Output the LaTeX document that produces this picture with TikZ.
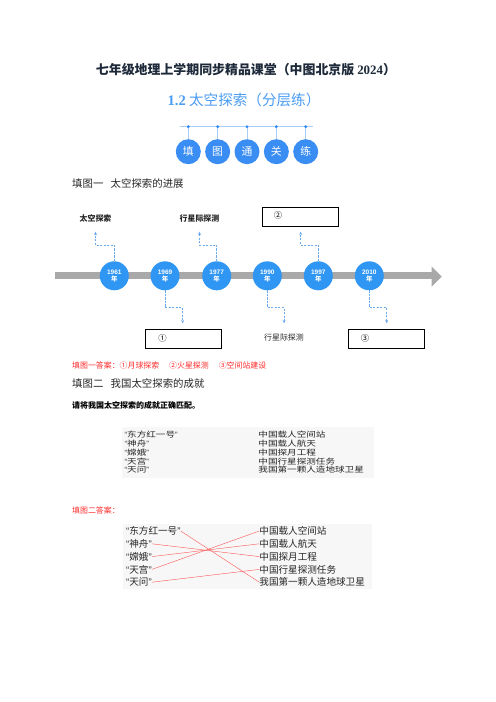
\documentclass[tikz,border=0pt]{standalone}
\usepackage{fontspec}
\setmainfont{Liberation Serif}
\newfontfamily\cjk{Noto Sans CJK SC}
\newfontfamily\cjkwide{Noto Sans CJK SC}[FakeStretch=1.25]
\newfontfamily\latin{Liberation Sans}
\usetikzlibrary{arrows.meta,positioning}

\definecolor{titlenavy}{HTML}{1E2A3A}
\definecolor{titleblue}{HTML}{4A9BF2}
\definecolor{ballblue}{HTML}{3A8DF2}
\definecolor{stemblue}{HTML}{A9CDF5}
\definecolor{yearblue}{HTML}{2F96F4}
\definecolor{dashblue}{HTML}{6AA9EE}
\definecolor{bargray}{HTML}{A9A9A9}
\definecolor{ansred}{HTML}{FF2A2A}
\definecolor{linkred}{HTML}{FF5A5A}

\newcommand{\qt}[1]{{\latin “}#1{\latin ”}}

\tikzset{
  bannerball/.style={circle, fill=ballblue, minimum size=30pt, inner sep=0pt,
    text=white, font=\cjk\fontsize{13}{14}\selectfont},
  yearnode/.style={circle, fill=yearblue, minimum size=34.8pt, inner sep=0pt,
    text=white, align=center, font=\latin\bfseries\fontsize{7.8}{9}\selectfont},
  dashlink/.style={dashblue, line width=0.8pt, dash pattern=on 2.6pt off 1.6pt,
    -{Stealth[length=4pt,width=3.6pt]}},
  tllabel/.style={font=\cjk\bfseries\fontsize{9.5}{10}\selectfont, text=black!85, inner sep=1pt},
  blankbox/.style={draw=black, line width=0.8pt, minimum width=91pt, minimum height=23pt, inner sep=0pt},
  heading/.style={anchor=west, inner sep=0pt, font=\cjk\fontsize{12.5}{13}\selectfont, text=black!85},
  answer/.style={anchor=west, inner sep=0pt, font=\cjk\fontsize{9.5}{10}\selectfont, text=ansred},
  tableitem/.style={anchor=west, inner sep=0pt, font=\cjkwide\fontsize{9.2}{10}\selectfont, text=black!85},
  leftitem/.style={anchor=west, inner sep=0pt, font=\cjk\fontsize{11.5}{12}\selectfont, text=black!85},
  rightitem/.style={anchor=west, inner sep=0pt, font=\cjk\fontsize{11.5}{12}\selectfont, text=black!85},
  matchline/.style={linkred, line width=0.5pt}
}

\begin{document}
\begin{tikzpicture}[x=1.2pt, y=-1.2pt, >=Stealth]

\useasboundingbox (0,0) rectangle (496,702);

\def\ybar{275.8}
\def\yup{245}
\def\ytipup{231.7}
\def\ydown{307.7}
\def\ytipdown{323.3}

\node[font=\cjk\bfseries\fontsize{15.5}{16}\selectfont, text=titlenavy] (title) at (246,70)
  {七年级地理上学期同步精品课堂（中图北京版 {\rmfamily 2024}）};
\node[font=\cjk\fontsize{17.5}{18}\selectfont, text=titleblue] (subtitle) at (244,100)
  {{\rmfamily\bfseries 1.2} 太空探索（分层练）};

\draw[stemblue, line width=1.6pt] (180,126.7) -- (313,126.7);
\foreach \ch [count=\i] in {填,图,通,关,练} {
  \coordinate (dot\i) at ({188.3+29.35*(\i-1)},126.7);
  \node[bannerball] (ball\i) at ({188.3+29.35*(\i-1)},151.7) {\ch};
  \draw[stemblue, line width=0.6pt] (dot\i) -- (ball\i.north);
  \fill[ballblue] (dot\i) circle (2pt);
}

\node[heading] (head1) at (72,184) {填图一\hspace{0.7em}太空探索的进展};

\draw[bargray, line width=8.4pt] (55,\ybar) -- (432,\ybar);
\fill[bargray] (431.7,266.7) -- (441.7,276.7) -- (431.7,286.7) -- cycle;

\foreach \yr/\xx in {1961/114.3,1969/165,1977/216.7,1990/267.3,1997/318.3,2010/369.3}
  \node[yearnode] (y\yr) at (\xx,\ybar) {\yr\\[-1pt]{\cjk\bfseries 年}};

\node[tllabel] (space) at (95.5,218) {太空探索};
\node[tllabel] (inter) at (199.5,218) {行星际探测};
\node[blankbox, label={[anchor=west, xshift=11pt, yshift=2pt, font=\cjk\fontsize{10}{10}\selectfont]west:②}] (box2) at (300,217) {};

\node[blankbox, label={[anchor=west, xshift=12pt, yshift=1pt, font=\cjk\fontsize{10}{10}\selectfont]west:①}] (box1) at (183.7,338.8) {};
\node[tllabel, font=\cjk\fontsize{9.5}{10}\selectfont] (inter2) at (284,337.3) {行星际探测};
\node[blankbox, label={[anchor=west, xshift=12pt, yshift=1pt, font=\cjk\fontsize{10}{10}\selectfont]west:③}] (box3) at (386.3,338.8) {};

\coordinate (k1) at (95.5,\yup);
\coordinate (k2) at (199.5,\yup);
\coordinate (k3) at (300.7,\yup);
\coordinate (k4) at (182.7,\ydown);
\coordinate (k5) at (284,\ydown);
\coordinate (k6) at (386.7,\ydown);

\draw[dashlink] (y1961.north) |- (k1) -- (95.5,\ytipup);
\draw[dashlink] (y1977.north) |- (k2) -- (199.5,\ytipup);
\draw[dashlink] (y1997.north) |- (k3) -- (300.7,\ytipup);
\draw[dashlink] (y1969.south) |- (k4) -- (182.7,\ytipdown);
\draw[dashlink] (y1990.south) |- (k5) -- (284,\ytipdown);
\draw[dashlink] (y2010.south) |- (k6) -- (386.7,\ytipdown);

\node[answer] (ans1) at (72,365)
  {填图一答案：①月球探索\hspace{12pt}②火星探测\hspace{12pt}③空间站建设};
\node[heading] (head2) at (72,383.5) {填图二\hspace{0.7em}我国太空探索的成就};
\node[anchor=west, inner sep=0pt, font=\cjk\bfseries\fontsize{9.6}{10}\selectfont] (task) at (72,405)
  {请将我国太空探索的成就正确匹配。};

\fill[black!3] (122,427) rectangle (374,478);
\foreach \a/\b [count=\i] in {\qt{东方红一号}/中国载人空间站, \qt{神舟}/中国载人航天,
    \qt{嫦娥}/中国探月工程, \qt{天宫}/中国行星探测任务, \qt{天问}/我国第一颗人造地球卫星} {
  \node[tableitem] (p\i) at (124.5,{435+8.7*(\i-1)}) {\a};
  \node[tableitem] (q\i) at (258.3,{435+8.7*(\i-1)}) {\b};
}

\node[answer] (ans2) at (72,510) {填图二答案：};

\fill[black!3] (123,524) rectangle (372,589);
\foreach \a/\b [count=\i] in {\qt{东方红一号}/中国载人空间站, \qt{神舟}/中国载人航天,
    \qt{嫦娥}/中国探月工程, \qt{天宫}/中国行星探测任务, \qt{天问}/我国第一颗人造地球卫星} {
  \node[leftitem] (l\i) at (126,{531+12.8*(\i-1)}) {\a};
  \node[rightitem] (r\i) at (259.3,{531+12.8*(\i-1)}) {\b};
}

\draw[matchline] (l1.east) -- (r5.west);
\draw[matchline] (l2.east) -- (r3.west);
\draw[matchline] (l3.east) -- (r2.west);
\draw[matchline] (l4.east) -- (r1.west);
\draw[matchline] (l5.east) -- (r4.west);

\end{tikzpicture}
\end{document}
